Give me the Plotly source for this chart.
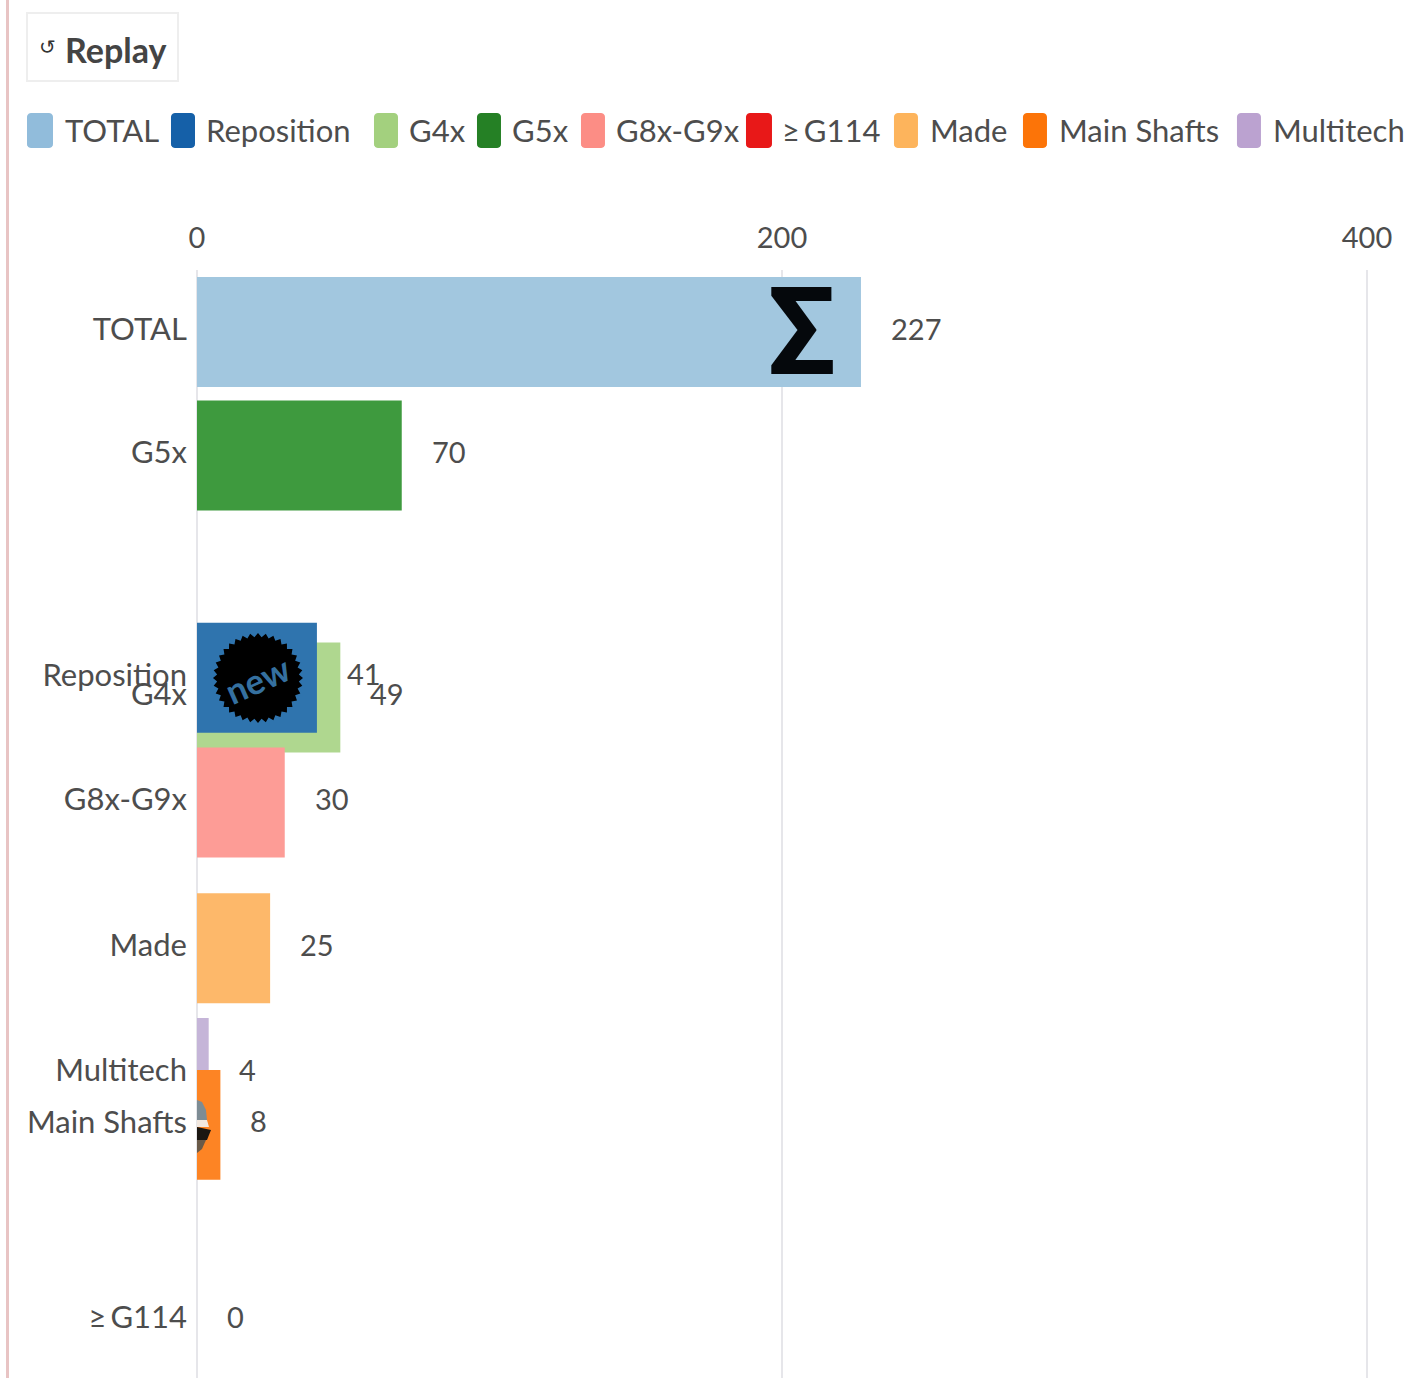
import math
import plotly.graph_objects as go

# ---- data ----
series = ["TOTAL", "Reposition", "G4x", "G5x", "G8x-G9x", "≥\u2009G114", "Made", "Main Shafts", "Multitech"]
values = [227, 41, 49, 70, 30, 0, 25, 8, 4]
# animated (in-between) rank of each bar in this frame of the race
ranks = [0, 2.80, 2.96, 1, 3.81, 8, 4.99, 6.42, 6.0]
x_ticks = [0, 200, 400]

# ---- style ----
colors = ["#91bcdb", "#1560a8", "#a3d07e", "#258025", "#fc8d85", "#e81818", "#fdb45c", "#fc7408", "#bba2d0"]
bar_colors = ["#9fc5de", "#2f74ae", "#afd78f", "#3e9a3e", "#fd9c96", "#e83030", "#fdb86a", "#fd8424", "#c5b5d8"]
bar_opacity = [0.97, 1, 1, 1, 1, 1, 1, 1, 1]
draw_order = [0, 3, 2, 1, 4, 6, 8, 7, 5]
W, H = 1408, 1378
FONT = "Lato"
TXT = "#4d4d4d"
FS = 31
NUM_FS = 29
swatch_left = [27, 171, 374, 477, 581, 746, 894, 1023, 1237]
swatch_w = [26, 24, 24, 24, 24, 26, 24, 24, 24]
label_left = [63, 204, 407, 510, 614, 780, 928, 1057, 1271]
# the page comes out shifted 8px and narrowed by 1408/1416 in the photograph
SCALE = 1408 / 1416
SHIFT = 8


def px(x):
    return (x - SHIFT) / SCALE / W


def py(y):
    return 1 - y / H


def path(points):
    return "M" + "L".join(f"{px(a):.5f},{py(b):.5f}" for a, b in points) + "Z"


def rounded(x0, y0, x1, y1, r=4):
    pts = []
    for cx, cy, start in ((x1 - r, y0 + r, -90), (x1 - r, y1 - r, 0), (x0 + r, y1 - r, 90), (x0 + r, y0 + r, 180)):
        for k in range(6):
            t = math.radians(start + k * 18)
            pts.append((cx + r * math.cos(t), cy + r * math.sin(t)))
    return path(pts)


fig = go.Figure()
for i in draw_order:
    fig.add_trace(go.Bar(
        x=[values[i]], y=[ranks[i]], orientation="h", width=0.89,
        marker=dict(color=bar_colors[i], opacity=bar_opacity[i], line_width=0),
        name=series[i], showlegend=False, hoverinfo="skip",
    ))

shapes = []
annotations = []


def note(text, x, y, size=FS, color=TXT, anchor="left", family=FONT, **kw):
    annotations.append(dict(text=text, x=px(x), y=py(y), xref="paper", yref="paper", showarrow=False,
                            xanchor=anchor, yanchor="middle",
                            font=dict(size=size, color=color, family=family), **kw))


# replay button
shapes.append(dict(type="rect", xref="paper", yref="paper", x0=px(27), x1=px(178), y0=py(81), y1=py(13),
                   fillcolor="#ffffff", line=dict(color="#eeeeee", width=2), layer="below"))
note("↺", 37, 47, size=20, family="DejaVu Sans", color="#333333")
note("<b>Replay</b>", 63, 49, size=34, color="#444444")

# legend
for i, name in enumerate(series):
    shapes.append(dict(type="path", xref="paper", yref="paper",
                       path=rounded(swatch_left[i], 113, swatch_left[i] + swatch_w[i], 148),
                       fillcolor=colors[i], line_width=0))
    note(name, label_left[i], 130)

# value labels
for i, name in enumerate(series):
    annotations.append(dict(text=str(values[i]), x=values[i], y=ranks[i], xref="x", yref="y", showarrow=False,
                            xanchor="left", yanchor="middle", xshift=28, yshift=4,
                            font=dict(size=NUM_FS, color=TXT, family=FONT)))

# icon on TOTAL bar
annotations.append(dict(text="<b>Σ</b>", x=values[0], y=ranks[0], xref="x", yref="y", showarrow=False,
                        xanchor="center", yanchor="middle", xshift=-59, yshift=0,
                        font=dict(size=122, color="#05080c", family="Roboto")))

# "new" badge on Reposition bar
cx, cy = 258, 678
teeth = 36
star = []
for k in range(teeth * 2):
    t = math.pi * k / teeth
    r = 45 if k % 2 == 0 else 41
    star.append((cx + r * math.cos(t), cy + r * math.sin(t)))
shapes.append(dict(type="path", xref="paper", yref="paper", path=path(star), fillcolor="#000000", line_width=0))
note("<b>new</b>", 257, 679, size=35, color="#35709f", anchor="center", textangle=-24)

# badge sliver clipped on Main Shafts bar
for pts, col in (
    ([(197, 1100), (202, 1102), (206, 1110), (207, 1120), (197, 1120)], "#7d8c94"),
    ([(197, 1120), (207, 1120), (209, 1127), (197, 1127)], "#f2e8df"),
    ([(197, 1127), (211, 1130), (207, 1140), (197, 1140)], "#1a1712"),
    ([(197, 1140), (206, 1140), (202, 1149), (197, 1153)], "#6a5a48"),
):
    shapes.append(dict(type="path", xref="paper", yref="paper", path=path(pts), fillcolor=col, line_width=0))

fig.update_layout(
    width=W, height=H, autosize=False, barmode="overlay",
    margin=dict(l=0, r=0, t=0, b=0),
    paper_bgcolor="rgba(0,0,0,0)", plot_bgcolor="rgba(0,0,0,0)",
    shapes=shapes, annotations=annotations,
    font=dict(family=FONT, size=FS, color=TXT),
    xaxis=dict(domain=[px(197), 1], range=[0, 1211 / 2.925], side="top",
               tickvals=x_ticks, ticks="", ticklabelstandoff=15, tickfont=dict(size=NUM_FS),
               showgrid=True, gridcolor="#e6e6ea", gridwidth=2, zeroline=True, zerolinecolor="#e6e6ea",
               zerolinewidth=2, showline=False, anchor="y", ticklabeloverflow="allow"),
    yaxis=dict(domain=[0, 1 - 270 / H], range=[(1378 - 332) / 123.5, (270 - 332) / 123.5],
               tickvals=ranks, ticktext=series, ticks="", ticklabelstandoff=9, ticklabelshift=3,
               showgrid=False, zeroline=False, showline=False, anchor="x"),
)

post = """
document.documentElement.style.margin='0';
document.body.style.margin='0';
document.body.style.overflow='hidden';
document.documentElement.style.background='linear-gradient(90deg,#fff 6px,#e8c4c4 6px,#e8c4c4 9px,#fff 9px)';
document.body.style.background='transparent';
var gd=document.getElementById('{plot_id}');
gd.style.position='absolute';gd.style.left='0';gd.style.top='0';
"""
fig.write_html("out.html", post_script=post, config={"displayModeBar": False})
